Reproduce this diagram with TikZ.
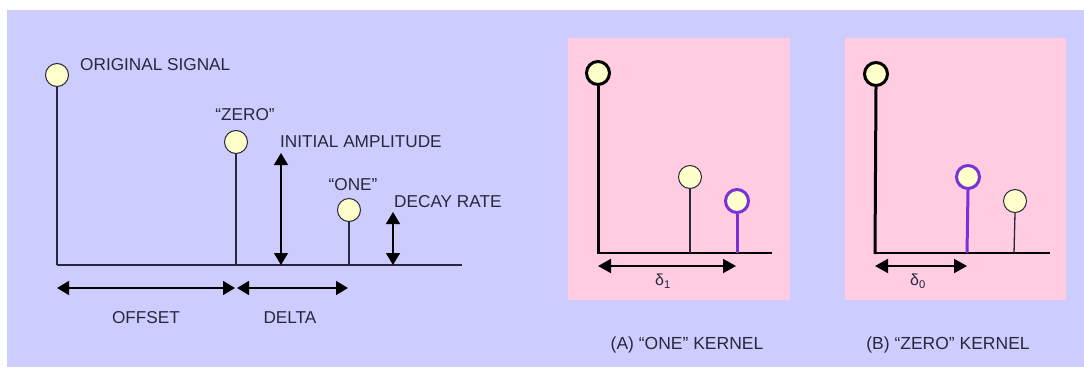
\documentclass[tikz,border=0pt]{standalone}
\usepackage{fontspec}
\setmainfont{Liberation Sans}
\usetikzlibrary{arrows.meta}
\definecolor{lav}{RGB}{204,204,255}
\definecolor{pinkbg}{RGB}{255,204,226}
\definecolor{dotfill}{RGB}{255,255,204}
\definecolor{purp}{RGB}{120,50,215}
\definecolor{ink}{RGB}{40,40,60}
\begin{document}
\begin{tikzpicture}[x=1pt,y=-1pt,
  dot/.style={circle,draw=ink,line width=1pt,fill=dotfill,minimum size=23pt,inner sep=0pt},
  bigdot/.style={circle,draw=black,line width=3pt,fill=dotfill,minimum size=23pt,inner sep=0pt},
  pdot/.style={circle,draw=purp,line width=3pt,fill=dotfill,minimum size=23pt,inner sep=0pt},
  lbl/.style={text=ink,font=\fontsize{17.2}{20}\selectfont,inner sep=0pt},
  captxt/.style={text=ink,font=\fontsize{17.5}{20}\selectfont,inner sep=0pt},
  dlbl/.style={text=ink,font=\fontsize{16}{18}\selectfont,inner sep=0pt},
  stem/.style={draw=ink,line width=1.3pt},
  thickstem/.style={draw=black,line width=3pt},
  pstem/.style={draw=purp,line width=3pt},
  axisline/.style={draw=ink,line width=1.5pt},
  kaxis/.style={draw=black,line width=2pt},
  dim/.style={draw=black,line width=1.5pt,{Triangle[length=12pt,width=14pt]}-{Triangle[length=12pt,width=14pt]}},
  kdim/.style={draw=black,line width=2pt,{Triangle[length=13pt,width=14pt]}-{Triangle[length=13pt,width=14pt]}}
]
\useasboundingbox (0,0) rectangle (1084,367);
\fill[white] (0,0) rectangle (1084,367);
\fill[lav] (7,10) rectangle (1084,367);

% ---------- left diagram ----------
\coordinate (o0) at (57,265);
\coordinate (z0) at (236,265);
\coordinate (n0) at (349,265);
\coordinate (axend) at (462,265);
\draw[axisline] (o0) -- (axend);
\node[dot] (orig) at (57,75) {};
\node[dot] (zero) at (236,142) {};
\node[dot] (one) at (349,210) {};
\draw[stem] (orig.south) -- (o0);
\draw[stem] (zero.south) -- (z0);
\draw[stem] (one.south) -- (n0);

\node[lbl,anchor=west] (tOrig) at (80,65) {ORIGINAL SIGNAL};
\node[lbl] (tZero) at (245,115) {“ZERO”};
\node[lbl,anchor=west] (tIA) at (280,142) {INITIAL AMPLITUDE};
\node[lbl] (tOne) at (353,185) {“ONE”};
\node[lbl,anchor=west] (tDR) at (394,202) {DECAY RATE};
\node[lbl] (tOff) at (146,318) {OFFSET};
\node[lbl] (tDel) at (290,318) {DELTA};

\coordinate (iaT) at (281,153);
\coordinate (iaB) at (281,265);
\draw[dim] (iaT) -- (iaB);
\coordinate (drT) at (393,212);
\coordinate (drB) at (393,265);
\draw[dim] (drT) -- (drB);
\coordinate (offL) at (57,288);
\coordinate (offR) at (235,288);
\draw[dim] (offL) -- (offR);
\coordinate (delL) at (237,288);
\coordinate (delR) at (348,288);
\draw[dim] (delL) -- (delR);

% ---------- panel A ----------
\fill[pinkbg] (568,38) rectangle (790,300);
\coordinate (a0) at (598,253);
\coordinate (a1) at (690,253);
\coordinate (a2) at (737,253);
\coordinate (aend) at (772,253);
\draw[kaxis] (a0) -- (aend);
\node[bigdot] (aorig) at (598,73) {};
\node[dot] (ayel) at (690,177) {};
\node[pdot] (apur) at (737,201) {};
\draw[thickstem] (aorig.south) -- ([yshift=-1pt]a0);
\draw[stem] (ayel.south) -- (a1);
\draw[pstem] (apur.south) -- (a2);
\coordinate (adL) at (598,266);
\coordinate (adR) at (736,266);
\draw[kdim] (adL) -- (adR);
\node[dlbl] (ad) at (663,281) {δ\textsubscript{1}};
\node[captxt] (acap) at (687,345) {(A) “ONE” KERNEL};

% ---------- panel B ----------
\fill[pinkbg] (845,38) rectangle (1066,300);
\coordinate (b0) at (875,253);
\coordinate (b1) at (967,253);
\coordinate (b2) at (1014,253);
\coordinate (bend) at (1050,253);
\draw[kaxis] (b0) -- (bend);
\node[bigdot] (borig) at (876,74) {};
\node[pdot] (bpur) at (968,177) {};
\node[dot] (byel) at (1015,201) {};
\draw[thickstem] (borig.south) -- ([yshift=-1pt]b0);
\draw[pstem] (bpur.south) -- (b1);
\draw[stem] (byel.south) -- (b2);
\coordinate (bdL) at (875,266);
\coordinate (bdR) at (967,266);
\draw[kdim] (bdL) -- (bdR);
\node[dlbl] (bd) at (918,281) {δ\textsubscript{0}};
\node[captxt] (bcap) at (948,345) {(B) “ZERO” KERNEL};
\end{tikzpicture}
\end{document}
